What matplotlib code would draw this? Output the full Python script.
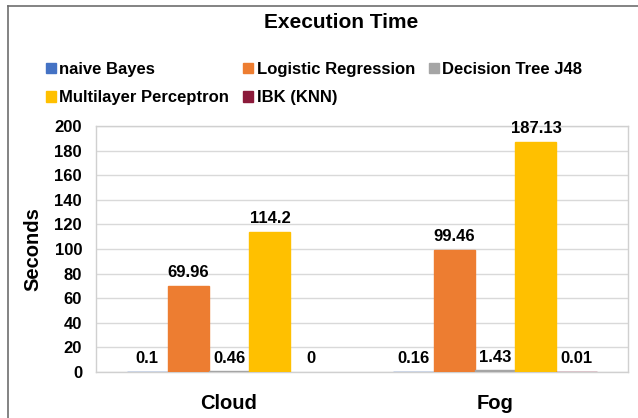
import numpy as np
import matplotlib
matplotlib.use('Agg')
import matplotlib.pyplot as plt
from matplotlib.lines import Line2D
from matplotlib.patches import Patch

plt.rcParams['font.family'] = ['Liberation Sans', 'DejaVu Sans']
plt.rcParams['font.weight'] = 'bold'

# data
categories = ['Cloud', 'Fog']
series_names = ['naive Bayes', 'Logistic Regression', 'Decision Tree J48',
                'Multilayer Perceptron', 'IBK (KNN)']
naive_bayes = [0.1, 0.16]
logistic_regression = [69.96, 99.46]
decision_tree = [0.46, 1.43]
mlp = [114.2, 187.13]
ibk_knn = [0, 0.01]
value_labels = [['0.1', '0.16'], ['69.96', '99.46'], ['0.46', '1.43'],
                ['114.2', '187.13'], ['0', '0.01']]
colors = ['#4472C4', '#ED7D31', '#A5A5A5', '#FFC000', '#8B1A3A']

all_series = [naive_bayes, logistic_regression, decision_tree, mlp, ibk_knn]

fig = plt.figure(figsize=(6.38, 4.18), dpi=100)
ax = fig.add_axes([96 / 638, 1 - 372 / 418, 532 / 638, 246 / 418])

x = np.arange(len(categories))
w = 0.154
for i, (vals, name, c) in enumerate(zip(all_series, series_names, colors)):
    bars = ax.bar(x + (i - 2) * w, vals, w, color=c, label=name, zorder=3)
    # tiny values still show as a thin line, like in Excel
    for p, v in zip(bars, vals):
        if v > 0:
            p.set_edgecolor(c)
            p.set_linewidth(1)
    ax.bar_label(bars, labels=value_labels[i], padding=4, fontsize=12,
                 fontweight='bold', zorder=4)

ax.set_xlim(-0.5, 1.5)
ax.set_ylim(0, 200)
ax.set_yticks(np.arange(0, 201, 20))
ax.set_xticks(x)
ax.set_xticklabels(categories, fontsize=14.5, fontweight='bold')
ax.tick_params(axis='x', length=0, pad=16)
ax.tick_params(axis='y', length=0, pad=10, labelsize=12)
ax.grid(axis='y', color='#D9D9D9', linewidth=1, zorder=0)
for s in ax.spines.values():
    s.set_color('#D0D0D0')
    s.set_linewidth(1)

ax.set_ylabel('Seconds', fontsize=14.5, fontweight='bold')
ax.yaxis.set_label_coords(-0.1, 0.5)

fig.text(0.5 + 22 / 638, 1 - 23 / 418, 'Execution Time', ha='center', va='center',
         fontsize=15, fontweight='bold')

# legend, filled row by row like Excel
handles = [Patch(color=c) for c in colors]
order = [0, 3, 1, 4, 2]
fig.legend([handles[k] for k in order], [series_names[k] for k in order],
           ncol=3, loc='upper left', bbox_to_anchor=(46 / 638, 1 - 62 / 418),
           frameon=False, fontsize=12, handlelength=0.6, handleheight=0.6,
           handletextpad=0.2, columnspacing=0.85, labelspacing=0.8,
           borderpad=0, borderaxespad=0)

# outer chart border
fig.add_artist(Line2D([8 / 638, 8 / 638], [0, 1 - 6 / 418], color='#6E6E6E', lw=1.2))
fig.add_artist(Line2D([8 / 638, 1], [1 - 6 / 418, 1 - 6 / 418], color='#6E6E6E', lw=1.2))

fig.savefig('out.png', dpi=100)
